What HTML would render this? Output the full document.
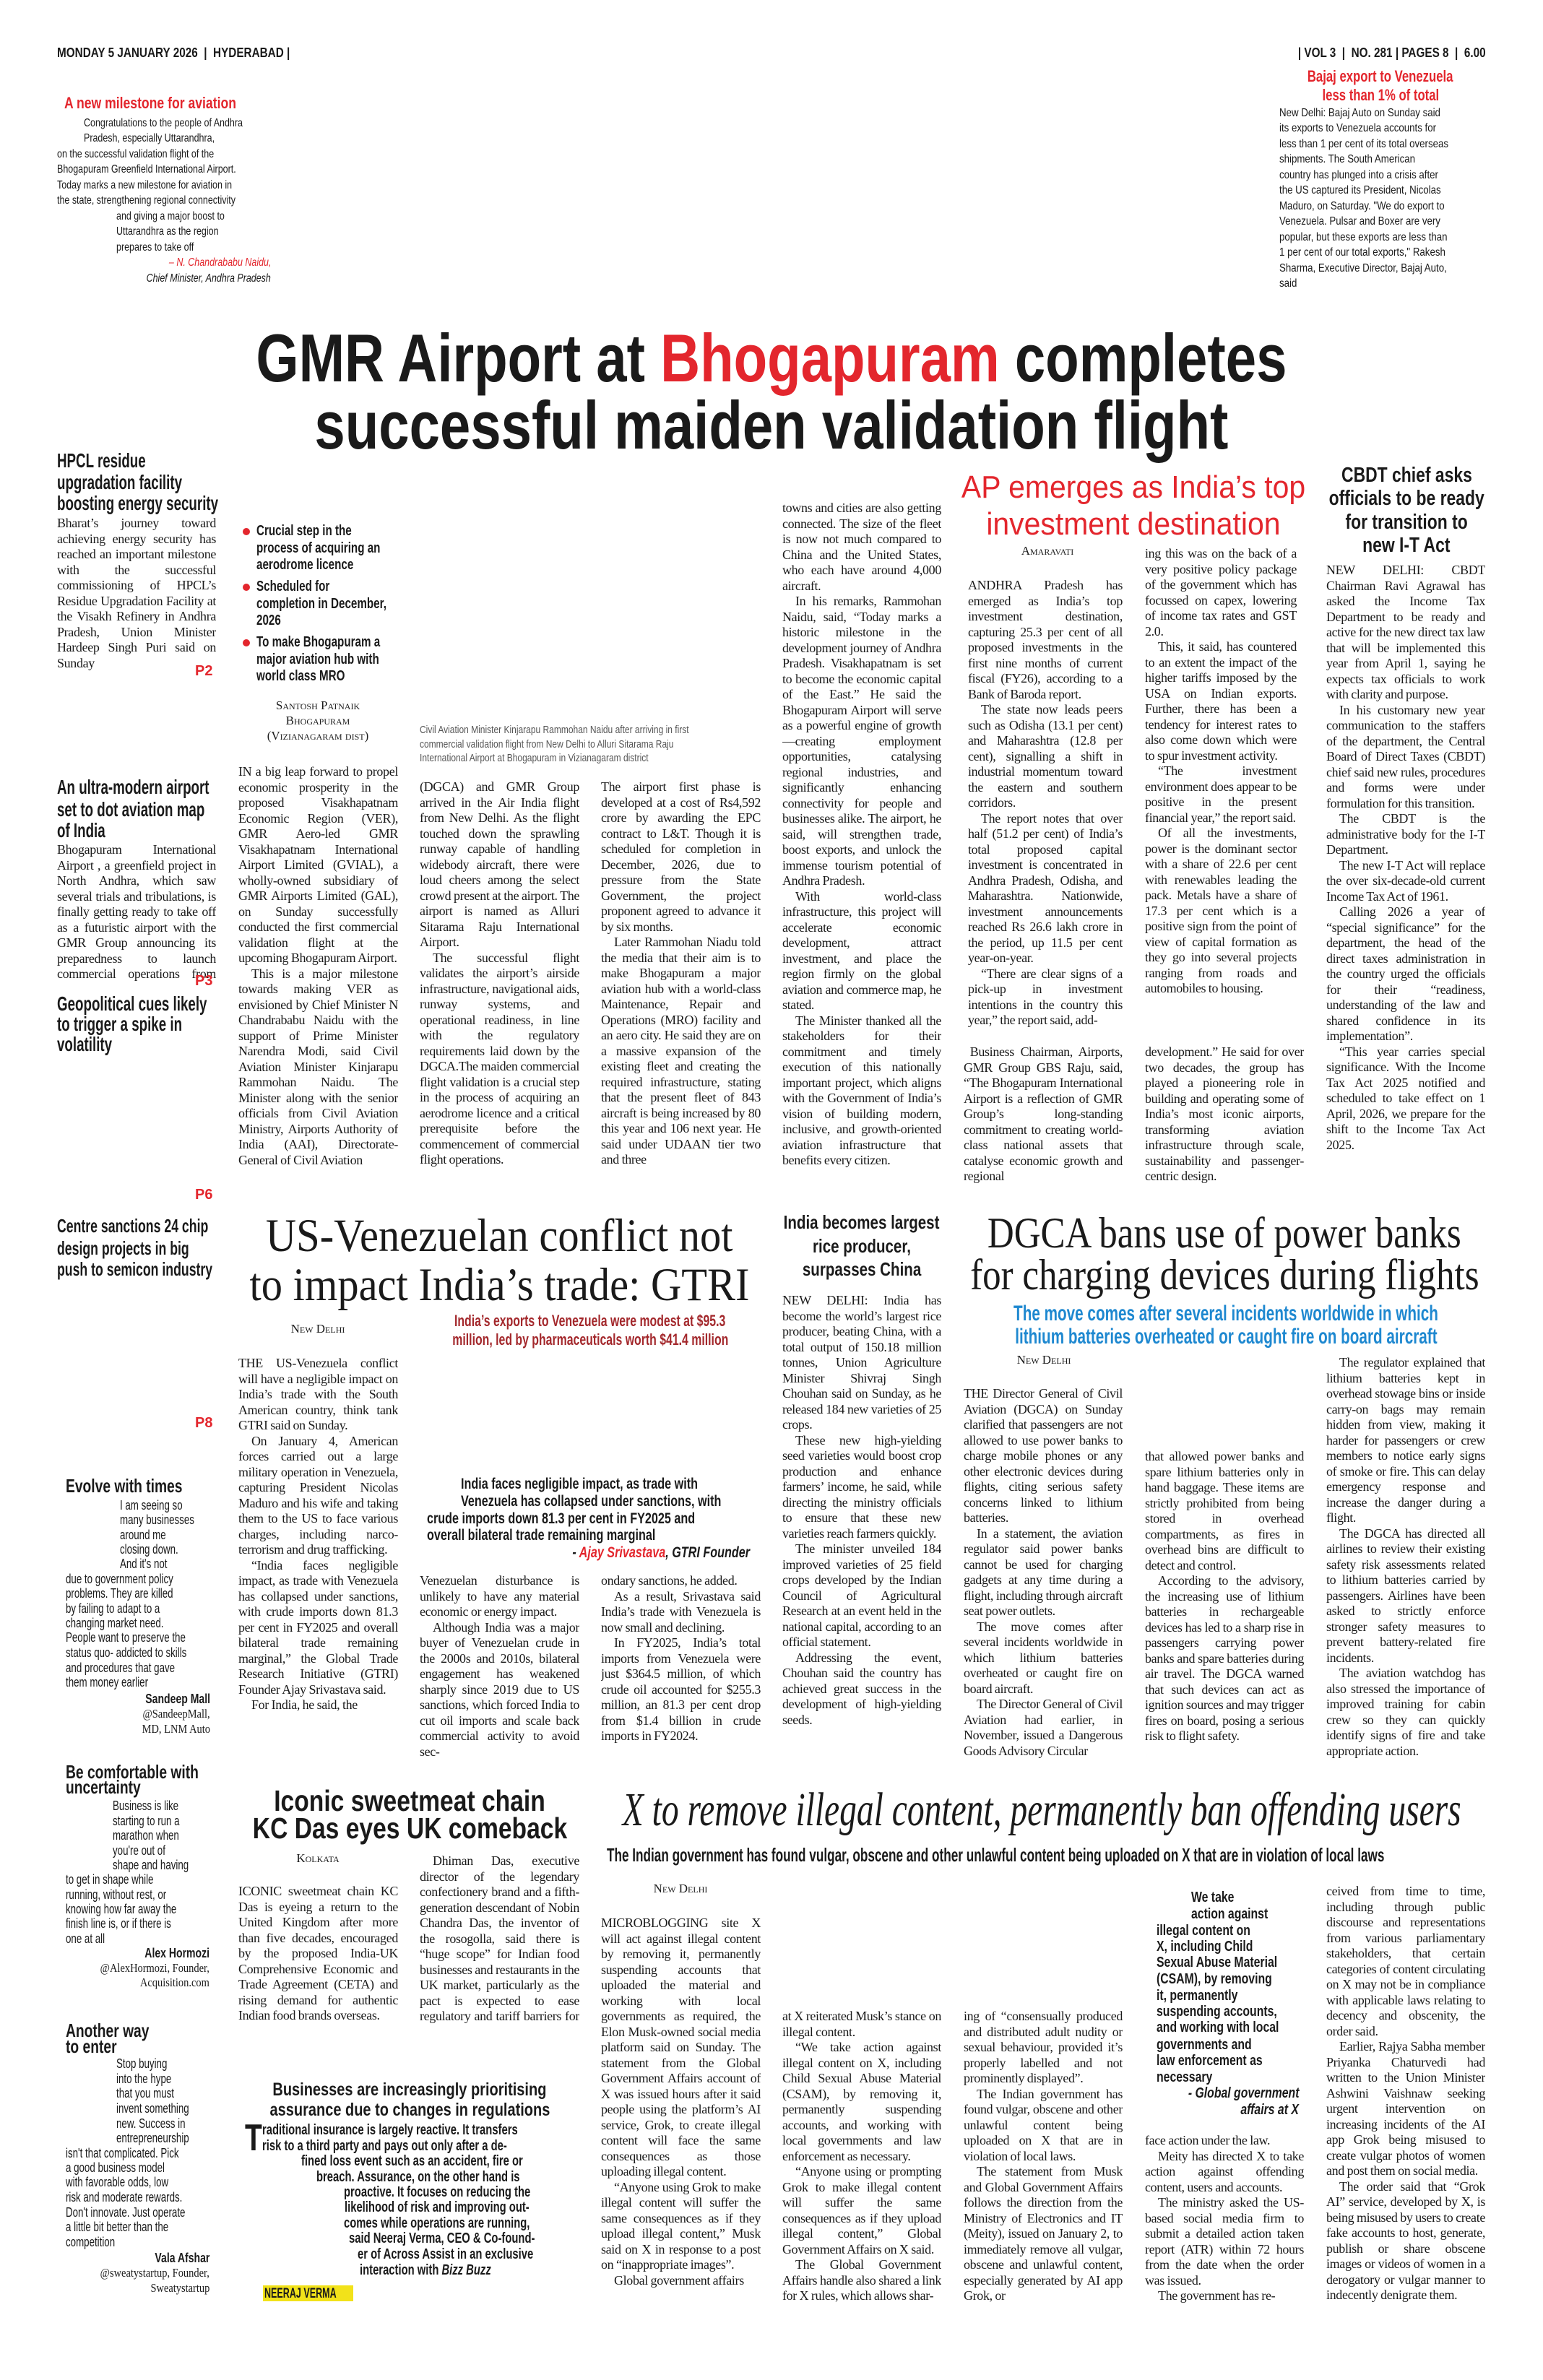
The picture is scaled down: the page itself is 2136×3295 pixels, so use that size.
<!DOCTYPE html>
<html lang="en">
<head>
<meta charset="utf-8">
<style>
html,body{margin:0;padding:0;background:#fff}
body{width:2136px;height:3295px;position:relative;overflow:hidden;color:#1a1a1a;font-family:"Liberation Sans",sans-serif}
.L{position:absolute;white-space:nowrap;transform-origin:0 0;line-height:1}
.R{position:absolute;white-space:nowrap;transform-origin:100% 0;line-height:1;text-align:right}
.C{position:absolute;width:2000px;text-align:center;white-space:nowrap;line-height:1}
.C>span{display:inline-block}
.b{position:absolute;font:18px/21.5px "Liberation Serif",serif;letter-spacing:-0.35px;word-spacing:-0.5px;text-align:justify;hyphens:auto;-webkit-hyphens:auto;overflow:hidden;color:#1a1a1a}
.b p{margin:0}
.b p+p{text-indent:1em}
.bd{font-weight:bold}
.red{color:#e3262d}
.sc{font-family:"Liberation Serif",serif;font-variant:small-caps}
.dot{position:absolute;width:10px;height:10px;border-radius:50%;background:#e3262d}
</style>
</head>
<body>

<!-- Header -->
<div class="L bd" style="left:79px;top:64px;font-size:18px;transform:scaleX(.85)">MONDAY 5 JANUARY 2026 &nbsp;|&nbsp; HYDERABAD |</div>
<div class="R bd" style="right:79px;top:64px;font-size:18px;transform:scaleX(.85)">| VOL 3 &nbsp;|&nbsp; NO. 281 | PAGES 8 &nbsp;|&nbsp; 6.00</div>

<!-- Top left quote -->
<div class="L bd red" style="left:89px;top:132px;font-size:22px;transform:scaleX(.8)">A new milestone for aviation</div>
<div class="L" style="left:116px;top:163px;font-size:16px;transform:scaleX(.78)">Congratulations to the people of Andhra</div>
<div class="L" style="left:116px;top:184px;font-size:16px;transform:scaleX(.78)">Pradesh, especially Uttarandhra,</div>
<div class="L" style="left:79px;top:206px;font-size:16px;transform:scaleX(.78)">on the successful validation flight of the</div>
<div class="L" style="left:79px;top:227px;font-size:16px;transform:scaleX(.78)">Bhogapuram Greenfield International Airport.</div>
<div class="L" style="left:79px;top:249px;font-size:16px;transform:scaleX(.78)">Today marks a new milestone for aviation in</div>
<div class="L" style="left:79px;top:270px;font-size:16px;transform:scaleX(.78)">the state, strengthening regional connectivity</div>
<div class="L" style="left:161px;top:292px;font-size:16px;transform:scaleX(.78)">and giving a major boost to</div>
<div class="L" style="left:161px;top:313px;font-size:16px;transform:scaleX(.78)">Uttarandhra as the region</div>
<div class="L" style="left:161px;top:335px;font-size:16px;transform:scaleX(.78)">prepares to take off</div>
<div class="R red" style="right:1761px;top:356px;font-size:16px;font-style:italic;transform:scaleX(.78)">– N. Chandrababu Naidu,</div>
<div class="R" style="right:1761px;top:378px;font-size:16px;font-style:italic;transform:scaleX(.78)">Chief Minister, Andhra Pradesh</div>

<!-- Top right Bajaj -->
<div class="C bd red" style="left:911px;top:95px;font-size:22px"><span style="transform:scaleX(.76)">Bajaj export to Venezuela</span></div>
<div class="C bd red" style="left:911px;top:121px;font-size:22px"><span style="transform:scaleX(.76)">less than 1% of total</span></div>
<div class="L" style="left:1771px;top:149px;font-size:16px;transform:scaleX(.83)">New Delhi: Bajaj Auto on Sunday said</div>
<div class="L" style="left:1771px;top:170px;font-size:16px;transform:scaleX(.83)">its exports to Venezuela accounts for</div>
<div class="L" style="left:1771px;top:192px;font-size:16px;transform:scaleX(.83)">less than 1 per cent of its total overseas</div>
<div class="L" style="left:1771px;top:213px;font-size:16px;transform:scaleX(.83)">shipments. The South American</div>
<div class="L" style="left:1771px;top:235px;font-size:16px;transform:scaleX(.83)">country has plunged into a crisis after</div>
<div class="L" style="left:1771px;top:256px;font-size:16px;transform:scaleX(.83)">the US captured its President, Nicolas</div>
<div class="L" style="left:1771px;top:278px;font-size:16px;transform:scaleX(.83)">Maduro, on Saturday. "We do export to</div>
<div class="L" style="left:1771px;top:299px;font-size:16px;transform:scaleX(.83)">Venezuela. Pulsar and Boxer are very</div>
<div class="L" style="left:1771px;top:321px;font-size:16px;transform:scaleX(.83)">popular, but these exports are less than</div>
<div class="L" style="left:1771px;top:342px;font-size:16px;transform:scaleX(.83)">1 per cent of our total exports," Rakesh</div>
<div class="L" style="left:1771px;top:364px;font-size:16px;transform:scaleX(.83)">Sharma, Executive Director, Bajaj Auto,</div>
<div class="L" style="left:1771px;top:385px;font-size:16px;transform:scaleX(.83)">said</div>

<!-- Main headline -->
<div class="C bd" style="left:68px;top:449px;font-size:94px"><span style="transform:scaleX(.81)">GMR Airport at <span class="red">Bhogapuram</span> completes</span></div>
<div class="C bd" style="left:68px;top:542px;font-size:94px"><span style="transform:scaleX(.81)">successful maiden validation flight</span></div>

<!-- Left sidebar -->
<div class="L bd" style="left:79px;top:624px;font-size:28px;transform:scaleX(.67)">HPCL residue</div>
<div class="L bd" style="left:79px;top:654px;font-size:28px;transform:scaleX(.67)">upgradation facility</div>
<div class="L bd" style="left:79px;top:683px;font-size:28px;transform:scaleX(.67)">boosting energy security</div>
<div class="b" style="left:79px;top:714px;width:220px;height:215px"><p>Bharat’s journey toward achieving energy security has reached an important milestone with the successful commissioning of HPCL’s Residue Upgradation Facility at the Visakh Refinery in Andhra Pradesh, Union Minister Hardeep Singh Puri said on Sunday</p></div>
<div class="L bd red" style="left:270px;top:919px;font-size:20px">P2</div>

<div class="L bd" style="left:79px;top:1076px;font-size:28px;transform:scaleX(.67)">An ultra-modern airport</div>
<div class="L bd" style="left:79px;top:1107px;font-size:28px;transform:scaleX(.67)">set to dot aviation map</div>
<div class="L bd" style="left:79px;top:1136px;font-size:28px;transform:scaleX(.67)">of India</div>
<div class="b" style="left:79px;top:1166px;width:220px;height:194px"><p>Bhogapuram International Airport , a greenfield project in North Andhra, which saw several trials and tribulations, is finally getting ready to take off as a futuristic airport with the GMR Group announcing its preparedness to launch commercial operations from June, 2026</p></div>
<div class="L bd red" style="left:270px;top:1348px;font-size:20px">P3</div>
<div class="L bd" style="left:79px;top:1376px;font-size:28px;transform:scaleX(.67)">Geopolitical cues likely</div>
<div class="L bd" style="left:79px;top:1404px;font-size:28px;transform:scaleX(.67)">to trigger a spike in</div>
<div class="L bd" style="left:79px;top:1432px;font-size:28px;transform:scaleX(.67)">volatility</div>
<div class="L bd red" style="left:270px;top:1644px;font-size:20px">P6</div>

<div class="L bd" style="left:79px;top:1684px;font-size:26px;transform:scaleX(.68)">Centre sanctions 24 chip</div>
<div class="L bd" style="left:79px;top:1715px;font-size:26px;transform:scaleX(.68)">design projects in big</div>
<div class="L bd" style="left:79px;top:1744px;font-size:26px;transform:scaleX(.68)">push to semicon industry</div>
<div class="L bd red" style="left:270px;top:1960px;font-size:20px">P8</div>

<div class="L bd" style="left:91px;top:2044px;font-size:26px;transform:scaleX(.74)">Evolve with times</div>
<div class="L" style="left:166px;top:2075px;font-size:18px;transform:scaleX(.74)">I am seeing so</div>
<div class="L" style="left:166px;top:2095px;font-size:18px;transform:scaleX(.74)">many businesses</div>
<div class="L" style="left:166px;top:2116px;font-size:18px;transform:scaleX(.74)">around me</div>
<div class="L" style="left:166px;top:2136px;font-size:18px;transform:scaleX(.74)">closing down.</div>
<div class="L" style="left:166px;top:2156px;font-size:18px;transform:scaleX(.74)">And it's not</div>
<div class="L" style="left:91px;top:2177px;font-size:18px;transform:scaleX(.74)">due to government policy</div>
<div class="L" style="left:91px;top:2197px;font-size:18px;transform:scaleX(.74)">problems. They are killed</div>
<div class="L" style="left:91px;top:2218px;font-size:18px;transform:scaleX(.74)">by failing to adapt to a</div>
<div class="L" style="left:91px;top:2238px;font-size:18px;transform:scaleX(.74)">changing market need.</div>
<div class="L" style="left:91px;top:2258px;font-size:18px;transform:scaleX(.74)">People want to preserve the</div>
<div class="L" style="left:91px;top:2279px;font-size:18px;transform:scaleX(.74)">status quo- addicted to skills</div>
<div class="L" style="left:91px;top:2300px;font-size:18px;transform:scaleX(.74)">and procedures that gave</div>
<div class="L" style="left:91px;top:2320px;font-size:18px;transform:scaleX(.74)">them money earlier</div>
<div class="R bd" style="right:1845px;top:2343px;font-size:18px;transform:scaleX(.78)">Sandeep Mall</div>
<div class="R" style="right:1845px;top:2364px;font-size:17px;font-family:'Liberation Serif',serif;transform:scaleX(.85)">@SandeepMall,</div>
<div class="R" style="right:1845px;top:2385px;font-size:17px;font-family:'Liberation Serif',serif;transform:scaleX(.85)">MD, LNM Auto</div>

<div class="L bd" style="left:91px;top:2440px;font-size:26px;transform:scaleX(.74)">Be comfortable with</div>
<div class="L bd" style="left:91px;top:2461px;font-size:26px;transform:scaleX(.74)">uncertainty</div>
<div class="L" style="left:156px;top:2491px;font-size:18px;transform:scaleX(.74)">Business is like</div>
<div class="L" style="left:156px;top:2512px;font-size:18px;transform:scaleX(.74)">starting to run a</div>
<div class="L" style="left:156px;top:2532px;font-size:18px;transform:scaleX(.74)">marathon when</div>
<div class="L" style="left:156px;top:2553px;font-size:18px;transform:scaleX(.74)">you're out of</div>
<div class="L" style="left:156px;top:2573px;font-size:18px;transform:scaleX(.74)">shape and having</div>
<div class="L" style="left:91px;top:2593px;font-size:18px;transform:scaleX(.74)">to get in shape while</div>
<div class="L" style="left:91px;top:2614px;font-size:18px;transform:scaleX(.74)">running, without rest, or</div>
<div class="L" style="left:91px;top:2634px;font-size:18px;transform:scaleX(.74)">knowing how far away the</div>
<div class="L" style="left:91px;top:2654px;font-size:18px;transform:scaleX(.74)">finish line is, or if there is</div>
<div class="L" style="left:91px;top:2675px;font-size:18px;transform:scaleX(.74)">one at all</div>
<div class="R bd" style="right:1846px;top:2695px;font-size:18px;transform:scaleX(.78)">Alex Hormozi</div>
<div class="R" style="right:1846px;top:2716px;font-size:17px;font-family:'Liberation Serif',serif;transform:scaleX(.85)">@AlexHormozi, Founder,</div>
<div class="R" style="right:1846px;top:2736px;font-size:17px;font-family:'Liberation Serif',serif;transform:scaleX(.85)">Acquisition.com</div>

<div class="L bd" style="left:91px;top:2798px;font-size:26px;transform:scaleX(.74)">Another way</div>
<div class="L bd" style="left:91px;top:2820px;font-size:26px;transform:scaleX(.74)">to enter</div>
<div class="L" style="left:161px;top:2848px;font-size:18px;transform:scaleX(.74)">Stop buying</div>
<div class="L" style="left:161px;top:2869px;font-size:18px;transform:scaleX(.74)">into the hype</div>
<div class="L" style="left:161px;top:2889px;font-size:18px;transform:scaleX(.74)">that you must</div>
<div class="L" style="left:161px;top:2910px;font-size:18px;transform:scaleX(.74)">invent something</div>
<div class="L" style="left:161px;top:2931px;font-size:18px;transform:scaleX(.74)">new. Success in</div>
<div class="L" style="left:161px;top:2951px;font-size:18px;transform:scaleX(.74)">entrepreneurship</div>
<div class="L" style="left:91px;top:2972px;font-size:18px;transform:scaleX(.74)">isn't that complicated. Pick</div>
<div class="L" style="left:91px;top:2992px;font-size:18px;transform:scaleX(.74)">a good business model</div>
<div class="L" style="left:91px;top:3012px;font-size:18px;transform:scaleX(.74)">with favorable odds, low</div>
<div class="L" style="left:91px;top:3033px;font-size:18px;transform:scaleX(.74)">risk and moderate rewards.</div>
<div class="L" style="left:91px;top:3054px;font-size:18px;transform:scaleX(.74)">Don't innovate. Just operate</div>
<div class="L" style="left:91px;top:3074px;font-size:18px;transform:scaleX(.74)">a little bit better than the</div>
<div class="L" style="left:91px;top:3095px;font-size:18px;transform:scaleX(.74)">competition</div>
<div class="R bd" style="right:1846px;top:3117px;font-size:18px;transform:scaleX(.78)">Vala Afshar</div>
<div class="R" style="right:1846px;top:3138px;font-size:17px;font-family:'Liberation Serif',serif;transform:scaleX(.85)">@sweatystartup, Founder,</div>
<div class="R" style="right:1846px;top:3159px;font-size:17px;font-family:'Liberation Serif',serif;transform:scaleX(.85)">Sweatystartup</div>

<!-- Bullets -->
<div class="dot" style="left:336px;top:731px"></div>
<div class="dot" style="left:336px;top:808px"></div>
<div class="dot" style="left:336px;top:885px"></div>
<div class="L bd" style="left:355px;top:725px;font-size:20px;transform:scaleX(.76)">Crucial step in the</div>
<div class="L bd" style="left:355px;top:749px;font-size:20px;transform:scaleX(.76)">process of acquiring an</div>
<div class="L bd" style="left:355px;top:772px;font-size:20px;transform:scaleX(.76)">aerodrome licence</div>
<div class="L bd" style="left:355px;top:802px;font-size:20px;transform:scaleX(.76)">Scheduled for</div>
<div class="L bd" style="left:355px;top:826px;font-size:20px;transform:scaleX(.76)">completion in December,</div>
<div class="L bd" style="left:355px;top:849px;font-size:20px;transform:scaleX(.76)">2026</div>
<div class="L bd" style="left:355px;top:879px;font-size:20px;transform:scaleX(.76)">To make Bhogapuram a</div>
<div class="L bd" style="left:355px;top:903px;font-size:20px;transform:scaleX(.76)">major aviation hub with</div>
<div class="L bd" style="left:355px;top:926px;font-size:20px;transform:scaleX(.76)">world class MRO</div>

<div class="C sc" style="left:-560px;top:968px;font-size:17px"><span>Santosh Patnaik</span></div>
<div class="C sc" style="left:-560px;top:989px;font-size:17px"><span>Bhogapuram</span></div>
<div class="C sc" style="left:-560px;top:1010px;font-size:17px"><span>(Vizianagaram dist)</span></div>

<div class="L" style="left:581px;top:1003px;font-size:15px;color:#555;transform:scaleX(.8)">Civil Aviation Minister Kinjarapu Rammohan Naidu after arriving in first</div>
<div class="L" style="left:581px;top:1023px;font-size:15px;color:#555;transform:scaleX(.8)">commercial validation flight from New Delhi to Alluri Sitarama Raju</div>
<div class="L" style="left:581px;top:1042px;font-size:15px;color:#555;transform:scaleX(.8)">International Airport at Bhogapuram in Vizianagaram district</div>

<!-- Main story columns -->
<div class="b" style="left:330px;top:1058px;width:221px;height:582px"><p>IN a big leap forward to propel economic prosperity in the proposed Visakhapatnam Economic Region (VER), GMR Aero-led GMR Visakhapatnam International Airport Limited (GVIAL), a wholly-owned subsidiary of GMR Airports Limited (GAL), on Sunday successfully conducted the first commercial validation flight at the upcoming Bhogapuram Airport.</p><p>This is a major milestone towards making VER as envisioned by Chief Minister N Chandrababu Naidu with the support of Prime Minister Narendra Modi, said Civil Aviation Minister Kinjarapu Rammohan Naidu. The Minister along with the senior officials from Civil Aviation Ministry, Airports Authority of India (AAI), Directorate-General of Civil Aviation</p></div>
<div class="b" style="left:581px;top:1079px;width:221px;height:561px"><p>(DGCA) and GMR Group arrived in the Air India flight from New Delhi. As the flight touched down the sprawling runway capable of handling widebody aircraft, there were loud cheers among the select crowd present at the airport. The airport is named as Alluri Sitarama Raju International Airport.</p><p>The successful flight validates the airport’s airside infrastructure, navigational aids, runway systems, and operational readiness, in line with the regulatory requirements laid down by the DGCA.The maiden commercial flight validation is a crucial step in the process of acquiring an aerodrome licence and a critical prerequisite before the commencement of commercial flight operations.</p></div>
<div class="b" style="left:832px;top:1079px;width:221px;height:561px"><p>The airport first phase is developed at a cost of Rs4,592 crore by awarding the EPC contract to L&amp;T. Though it is scheduled for completion in December, 2026, due to pressure from the State Government, the project proponent agreed to advance it by six months.</p><p>Later Rammohan Niadu told the media that their aim is to make Bhogapuram a major aviation hub with a world-class Maintenance, Repair and Operations (MRO) facility and an aero city. He said they are on a massive expansion of the existing fleet and creating the required infrastructure, stating that the present fleet of 843 aircraft is being increased by 80 this year and 106 next year. He said under UDAAN tier two and three</p></div>
<div class="b" style="left:1083px;top:693px;width:220px;height:947px"><p>towns and cities are also getting connected. The size of the fleet is now not much compared to China and the United States, who each have around 4,000 aircraft.</p><p>In his remarks, Rammohan Naidu, said, “Today marks a historic milestone in the development journey of Andhra Pradesh. Visakhapatnam is set to become the economic capital of the East.” He said the Bhogapuram Airport will serve as a powerful engine of growth—creating employment opportunities, catalysing regional industries, and significantly enhancing connectivity for people and businesses alike. The airport, he said, will strengthen trade, boost exports, and unlock the immense tourism potential of Andhra Pradesh.</p><p>With world-class infrastructure, this project will accelerate economic development, attract investment, and place the region firmly on the global aviation and commerce map, he stated.</p><p>The Minister thanked all the stakeholders for their commitment and timely execution of this nationally important project, which aligns with the Government of India’s vision of building modern, inclusive, and growth-oriented aviation infrastructure that benefits every citizen.</p></div>

<!-- AP emerges -->
<div class="C red" style="left:569px;top:653px;font-size:44px"><span style="transform:scaleX(.93)">AP emerges as India’s top</span></div>
<div class="C red" style="left:569px;top:704px;font-size:44px"><span style="transform:scaleX(.93)">investment destination</span></div>
<div class="C sc" style="left:450px;top:754px;font-size:17px"><span>Amaravati</span></div>
<div class="b" style="left:1340px;top:800px;width:214px;height:624px"><p>ANDHRA Pradesh has emerged as India’s top investment destination, capturing 25.3 per cent of all proposed investments in the first nine months of current fiscal (FY26), according to a Bank of Baroda report.</p><p>The state now leads peers such as Odisha (13.1 per cent) and Maharashtra (12.8 per cent), signalling a shift in industrial momentum toward the eastern and southern corridors.</p><p>The report notes that over half (51.2 per cent) of India’s total proposed capital investment is concentrated in Andhra Pradesh, Odisha, and Maharashtra. Nationwide, investment announcements reached Rs 26.6 lakh crore in the period, up 11.5 per cent year-on-year.</p><p>“There are clear signs of a pick-up in investment intentions in the country this year,” the report said, add-</p></div>
<div class="b" style="left:1585px;top:756px;width:210px;height:668px"><p>ing this was on the back of a very positive policy package of the government which has focussed on capex, lowering of income tax rates and GST 2.0.</p><p>This, it said, has countered to an extent the impact of the higher tariffs imposed by the USA on Indian exports. Further, there has been a tendency for interest rates to also come down which were to spur investment activity.</p><p>“The investment environment does appear to be positive in the present financial year,” the report said.</p><p>Of all the investments, power is the dominant sector with a share of 22.6 per cent with renewables leading the pack. Metals have a share of 17.3 per cent which is a positive sign from the point of view of capital formation as they go into several projects ranging from roads and automobiles to housing.</p></div>
<div class="b" style="left:1334px;top:1446px;width:220px;height:194px"><p>&nbsp;Business Chairman, Airports, GMR Group GBS Raju, said, “The Bhogapuram International Airport is a reflection of GMR Group’s long-standing commitment to creating world-class national assets that catalyse economic growth and regional</p></div>
<div class="b" style="left:1585px;top:1446px;width:220px;height:194px"><p>development.” He said for over two decades, the group has played a pioneering role in building and operating some of India’s most iconic airports, transforming aviation infrastructure through scale, sustainability and passenger-centric design.</p></div>

<!-- CBDT -->
<div class="C bd" style="left:947px;top:644px;font-size:29px"><span style="transform:scaleX(.79)">CBDT chief asks</span></div>
<div class="C bd" style="left:947px;top:676px;font-size:29px"><span style="transform:scaleX(.79)">officials to be ready</span></div>
<div class="C bd" style="left:947px;top:709px;font-size:29px"><span style="transform:scaleX(.79)">for transition to</span></div>
<div class="C bd" style="left:947px;top:741px;font-size:29px"><span style="transform:scaleX(.79)">new I-T Act</span></div>
<div class="b" style="left:1836px;top:779px;width:220px;height:861px"><p>NEW DELHI: CBDT Chairman Ravi Agrawal has asked the Income Tax Department to be ready and active for the new direct tax law that will be implemented this year from April 1, saying he expects tax officials to work with clarity and purpose.</p><p>In his customary new year communication to the staffers of the department, the Central Board of Direct Taxes (CBDT) chief said new rules, procedures and forms were under formulation for this transition.</p><p>The CBDT is the administrative body for the I-T Department.</p><p>The new I-T Act will replace the over six-decade-old current Income Tax Act of 1961.</p><p>Calling 2026 a year of “special significance” for the department, the head of the direct taxes administration in the country urged the officials for their “readiness, understanding of the law and shared confidence in its implementation”.</p><p>“This year carries special significance. With the Income Tax Act 2025 notified and scheduled to take effect on 1 April, 2026, we prepare for the shift to the Income Tax Act 2025.</p></div>

<!-- US-Venezuela -->
<div class="C" style="left:-309px;top:1679px;font-size:65px;font-family:'Liberation Serif',serif"><span style="transform:scaleX(.9)">US-Venezuelan conflict not</span></div>
<div class="C" style="left:-309px;top:1747px;font-size:65px;font-family:'Liberation Serif',serif"><span style="transform:scaleX(.9)">to impact India’s trade: GTRI</span></div>
<div class="C sc" style="left:-560px;top:1831px;font-size:17px"><span>New Delhi</span></div>
<div class="C bd" style="left:-183px;top:1818px;font-size:22px;color:#a3282c"><span style="transform:scaleX(.72)">India’s exports to Venezuela were modest at $95.3</span></div>
<div class="C bd" style="left:-183px;top:1844px;font-size:22px;color:#a3282c"><span style="transform:scaleX(.72)">million, led by pharmaceuticals worth $41.4 million</span></div>
<div class="b" style="left:330px;top:1877px;width:221px;height:561px"><p>THE US-Venezuela conflict will have a negligible impact on India’s trade with the South American country, think tank GTRI said on Sunday.</p><p>On January 4, American forces carried out a large military operation in Venezuela, capturing President Nicolas Maduro and his wife and taking them to the US to face various charges, including narco-terrorism and drug trafficking.</p><p>“India faces negligible impact, as trade with Venezuela has collapsed under sanctions, with crude imports down 81.3 per cent in FY2025 and overall bilateral trade remaining marginal,” the Global Trade Research Initiative (GTRI) Founder Ajay Srivastava said.</p><p>For India, he said, the</p></div>
<div class="L bd" style="left:638px;top:2044px;font-size:21px;transform:scaleX(.77)">India faces negligible impact, as trade with</div>
<div class="L bd" style="left:638px;top:2068px;font-size:21px;transform:scaleX(.77)">Venezuela has collapsed under sanctions, with</div>
<div class="L bd" style="left:591px;top:2092px;font-size:21px;transform:scaleX(.77)">crude imports down 81.3 per cent in FY2025 and</div>
<div class="L bd" style="left:591px;top:2115px;font-size:21px;transform:scaleX(.77)">overall bilateral trade remaining marginal</div>
<div class="R bd" style="right:1098px;top:2139px;font-size:21px;font-style:italic;transform:scaleX(.77)">- <span class="red">Ajay Srivastava</span>, GTRI Founder</div>
<div class="b" style="left:581px;top:2178px;width:221px;height:260px"><p>Venezuelan disturbance is unlikely to have any material economic or energy impact.</p><p>Although India was a major buyer of Venezuelan crude in the 2000s and 2010s, bilateral engagement has weakened sharply since 2019 due to US sanctions, which forced India to cut oil imports and scale back commercial activity to avoid sec-</p></div>
<div class="b" style="left:832px;top:2178px;width:221px;height:260px"><p>ondary sanctions, he added.</p><p>As a result, Srivastava said India’s trade with Venezuela is now small and declining.</p><p>In FY2025, India’s total imports from Venezuela were just $364.5 million, of which crude oil accounted for $255.3 million, an 81.3 per cent drop from $1.4 billion in crude imports in FY2024.</p></div>

<!-- Rice -->
<div class="C bd" style="left:193px;top:1679px;font-size:26px"><span style="transform:scaleX(.79)">India becomes largest</span></div>
<div class="C bd" style="left:193px;top:1712px;font-size:26px"><span style="transform:scaleX(.79)">rice producer,</span></div>
<div class="C bd" style="left:193px;top:1744px;font-size:26px"><span style="transform:scaleX(.79)">surpasses China</span></div>
<div class="b" style="left:1083px;top:1790px;width:220px;height:648px"><p>NEW DELHI: India has become the world’s largest rice producer, beating China, with a total output of 150.18 million tonnes, Union Agriculture Minister Shivraj Singh Chouhan said on Sunday, as he released 184 new varieties of 25 crops.</p><p>These new high-yielding seed varieties would boost crop production and enhance farmers’ income, he said, while directing the ministry officials to ensure that these new varieties reach farmers quickly.</p><p>The minister unveiled 184 improved varieties of 25 field crops developed by the Indian Council of Agricultural Research at an event held in the national capital, according to an official statement.</p><p>Addressing the event, Chouhan said the country has achieved great success in the development of high-yielding seeds.</p></div>

<!-- DGCA -->
<div class="C" style="left:695px;top:1677px;font-size:60px;font-family:'Liberation Serif',serif"><span style="transform:scaleX(.85)">DGCA bans use of power banks</span></div>
<div class="C" style="left:695px;top:1735px;font-size:60px;font-family:'Liberation Serif',serif"><span style="transform:scaleX(.85)">for charging devices during flights</span></div>
<div class="C bd" style="left:697px;top:1804px;font-size:30px;color:#1e88d0"><span style="transform:scaleX(.69)">The move comes after several incidents worldwide in which</span></div>
<div class="C bd" style="left:697px;top:1836px;font-size:30px;color:#1e88d0"><span style="transform:scaleX(.69)">lithium batteries overheated or caught fire on board aircraft</span></div>
<div class="C sc" style="left:445px;top:1874px;font-size:17px"><span>New Delhi</span></div>
<div class="b" style="left:1334px;top:1919px;width:220px;height:519px"><p>THE Director General of Civil Aviation (DGCA) on Sunday clarified that passengers are not allowed to use power banks to charge mobile phones or any other electronic devices during flights, citing serious safety concerns linked to lithium batteries.</p><p>In a statement, the aviation regulator said power banks cannot be used for charging gadgets at any time during a flight, including through aircraft seat power outlets.</p><p>The move comes after several incidents worldwide in which lithium batteries overheated or caught fire on board aircraft.</p><p>The Director General of Civil Aviation had earlier, in November, issued a Dangerous Goods Advisory Circular</p></div>
<div class="b" style="left:1585px;top:2006px;width:220px;height:432px"><p>that allowed power banks and spare lithium batteries only in hand baggage. These items are strictly prohibited from being stored in overhead compartments, as fires in overhead bins are difficult to detect and control.</p><p>According to the advisory, the increasing use of lithium batteries in rechargeable devices has led to a sharp rise in passengers carrying power banks and spare batteries during air travel. The DGCA warned that such devices can act as ignition sources and may trigger fires on board, posing a serious risk to flight safety.</p></div>
<div class="b" style="left:1836px;top:1876px;width:220px;height:562px"><p style="text-indent:1em">The regulator explained that lithium batteries kept in overhead stowage bins or inside carry-on bags may remain hidden from view, making it harder for passengers or crew members to notice early signs of smoke or fire. This can delay emergency response and increase the danger during a flight.</p><p>The DGCA has directed all airlines to review their existing safety risk assessments related to lithium batteries carried by passengers. Airlines have been asked to strictly enforce stronger safety measures to prevent battery-related fire incidents.</p><p>The aviation watchdog has also stressed the importance of improved training for cabin crew so they can quickly identify signs of fire and take appropriate action.</p></div>

<!-- Iconic -->
<div class="C bd" style="left:-433px;top:2473px;font-size:41px"><span style="transform:scaleX(.82)">Iconic sweetmeat chain</span></div>
<div class="C bd" style="left:-433px;top:2511px;font-size:41px"><span style="transform:scaleX(.82)">KC Das eyes UK comeback</span></div>
<div class="C sc" style="left:-560px;top:2564px;font-size:17px"><span>Kolkata</span></div>
<div class="b" style="left:330px;top:2608px;width:221px;height:195px"><p>ICONIC sweetmeat chain KC Das is eyeing a return to the United Kingdom after more than five decades, encouraged by the proposed India-UK Comprehensive Economic and Trade Agreement (CETA) and rising demand for authentic Indian food brands overseas.</p></div>
<div class="b" style="left:581px;top:2566px;width:221px;height:237px"><p style="text-indent:1em">Dhiman Das, executive director of the legendary confectionery brand and a fifth-generation descendant of Nobin Chandra Das, the inventor of the rosogolla, said there is “huge scope” for Indian food businesses and restaurants in the UK market, particularly as the pact is expected to ease regulatory and tariff barriers for food exports.</p></div>

<!-- Businesses -->
<div class="C bd" style="left:-433px;top:2881px;font-size:25px"><span style="transform:scaleX(.8)">Businesses are increasingly prioritising</span></div>
<div class="C bd" style="left:-433px;top:2909px;font-size:25px"><span style="transform:scaleX(.8)">assurance due to changes in regulations</span></div>
<div class="L bd" style="left:339px;top:2934px;font-size:52px;transform:scaleX(.75)">T</div>
<div class="L bd" style="left:363px;top:2939px;font-size:20px;transform:scaleX(.74)">raditional insurance is largely reactive. It transfers</div>
<div class="L bd" style="left:363px;top:2961px;font-size:20px;transform:scaleX(.74)">risk to a third party and pays out only after a de-</div>
<div class="L bd" style="left:417px;top:2982px;font-size:20px;transform:scaleX(.74)">fined loss event such as an accident, fire or</div>
<div class="L bd" style="left:438px;top:3004px;font-size:20px;transform:scaleX(.74)">breach. Assurance, on the other hand is</div>
<div class="L bd" style="left:476px;top:3025px;font-size:20px;transform:scaleX(.74)">proactive. It focuses on reducing the</div>
<div class="L bd" style="left:477px;top:3046px;font-size:20px;transform:scaleX(.74)">likelihood of risk and improving out-</div>
<div class="L bd" style="left:476px;top:3068px;font-size:20px;transform:scaleX(.74)">comes while operations are running,</div>
<div class="L bd" style="left:483px;top:3089px;font-size:20px;transform:scaleX(.74)">said Neeraj Verma, CEO &amp; Co-found-</div>
<div class="L bd" style="left:495px;top:3111px;font-size:20px;transform:scaleX(.74)">er of Across Assist in an exclusive</div>
<div class="L bd" style="left:498px;top:3133px;font-size:20px;transform:scaleX(.74)">interaction with <i>Bizz Buzz</i></div>
<div style="position:absolute;left:364px;top:3164px;width:125px;height:22px;background:#f2e21a"></div>
<div class="L bd" style="left:366px;top:3166px;font-size:19px;transform:scaleX(.66)">NEERAJ VERMA</div>

<!-- X story -->
<div class="C" style="left:442px;top:2473px;font-size:66px;font-family:'Liberation Serif',serif;font-style:italic"><span style="transform:scaleX(.72)">X to remove illegal content, permanently ban offending users</span></div>
<div class="L bd" style="left:840px;top:2555px;font-size:26px;transform:scaleX(.66)">The Indian government has found vulgar, obscene and other unlawful content being uploaded on X that are in violation of local laws</div>
<div class="C sc" style="left:-58px;top:2606px;font-size:17px"><span>New Delhi</span></div>
<div class="b" style="left:832px;top:2652px;width:221px;height:540px"><p>MICROBLOGGING site X will act against illegal content by removing it, permanently suspending accounts that uploaded the material and working with local governments as required, the Elon Musk-owned social media platform said on Sunday. The statement from the Global Government Affairs account of X was issued hours after it said people using the platform’s AI service, Grok, to create illegal content will face the same consequences as those uploading illegal content.</p><p>“Anyone using Grok to make illegal content will suffer the same consequences as if they upload illegal content,” Musk said on X in response to a post on “inappropriate images”.</p><p>Global government affairs</p></div>
<div class="b" style="left:1083px;top:2781px;width:220px;height:411px"><p>at X reiterated Musk’s stance on illegal content.</p><p>“We take action against illegal content on X, including Child Sexual Abuse Material (CSAM), by removing it, permanently suspending accounts, and working with local governments and law enforcement as necessary.</p><p>“Anyone using or prompting Grok to make illegal content will suffer the same consequences as if they upload illegal content,” Global Government Affairs on X said.</p><p>The Global Government Affairs handle also shared a link for X rules, which allows shar-</p></div>
<div class="b" style="left:1334px;top:2781px;width:220px;height:411px"><p>ing of “consensually produced and distributed adult nudity or sexual behaviour, provided it’s properly labelled and not prominently displayed”.</p><p>The Indian government has found vulgar, obscene and other unlawful content being uploaded on X that are in violation of local laws.</p><p>The statement from Musk and Global Government Affairs follows the direction from the Ministry of Electronics and IT (Meity), issued on January 2, to immediately remove all vulgar, obscene and unlawful content, especially generated by AI app Grok, or</p></div>
<div class="L bd" style="left:1649px;top:2617px;font-size:20px;transform:scaleX(.79)">We take</div>
<div class="L bd" style="left:1649px;top:2640px;font-size:20px;transform:scaleX(.79)">action against</div>
<div class="L bd" style="left:1601px;top:2663px;font-size:20px;transform:scaleX(.79)">illegal content on</div>
<div class="L bd" style="left:1601px;top:2685px;font-size:20px;transform:scaleX(.79)">X, including Child</div>
<div class="L bd" style="left:1601px;top:2707px;font-size:20px;transform:scaleX(.79)">Sexual Abuse Material</div>
<div class="L bd" style="left:1601px;top:2730px;font-size:20px;transform:scaleX(.79)">(CSAM), by removing</div>
<div class="L bd" style="left:1601px;top:2753px;font-size:20px;transform:scaleX(.79)">it, permanently</div>
<div class="L bd" style="left:1601px;top:2775px;font-size:20px;transform:scaleX(.79)">suspending accounts,</div>
<div class="L bd" style="left:1601px;top:2797px;font-size:20px;transform:scaleX(.79)">and working with local</div>
<div class="L bd" style="left:1601px;top:2821px;font-size:20px;transform:scaleX(.79)">governments and</div>
<div class="L bd" style="left:1601px;top:2843px;font-size:20px;transform:scaleX(.79)">law enforcement as</div>
<div class="L bd" style="left:1601px;top:2866px;font-size:20px;transform:scaleX(.79)">necessary</div>
<div class="R bd" style="right:338px;top:2888px;font-size:20px;font-style:italic;transform:scaleX(.79)">- Global government</div>
<div class="R bd" style="right:338px;top:2911px;font-size:20px;font-style:italic;transform:scaleX(.79)">affairs at X</div>
<div class="b" style="left:1585px;top:2953px;width:220px;height:239px"><p>face action under the law.</p><p>Meity has directed X to take action against offending content, users and accounts.</p><p>The ministry asked the US-based social media firm to submit a detailed action taken report (ATR) within 72 hours from the date when the order was issued.</p><p>The government has re-</p></div>
<div class="b" style="left:1836px;top:2608px;width:220px;height:584px"><p>ceived from time to time, including through public discourse and representations from various parliamentary stakeholders, that certain categories of content circulating on X may not be in compliance with applicable laws relating to decency and obscenity, the order said.</p><p>Earlier, Rajya Sabha member Priyanka Chaturvedi had written to the Union Minister Ashwini Vaishnaw seeking urgent intervention on increasing incidents of the AI app Grok being misused to create vulgar photos of women and post them on social media.</p><p>The order said that “Grok AI” service, developed by X, is being misused by users to create fake accounts to host, generate, publish or share obscene images or videos of women in a derogatory or vulgar manner to indecently denigrate them.</p></div>

</body>
</html>
